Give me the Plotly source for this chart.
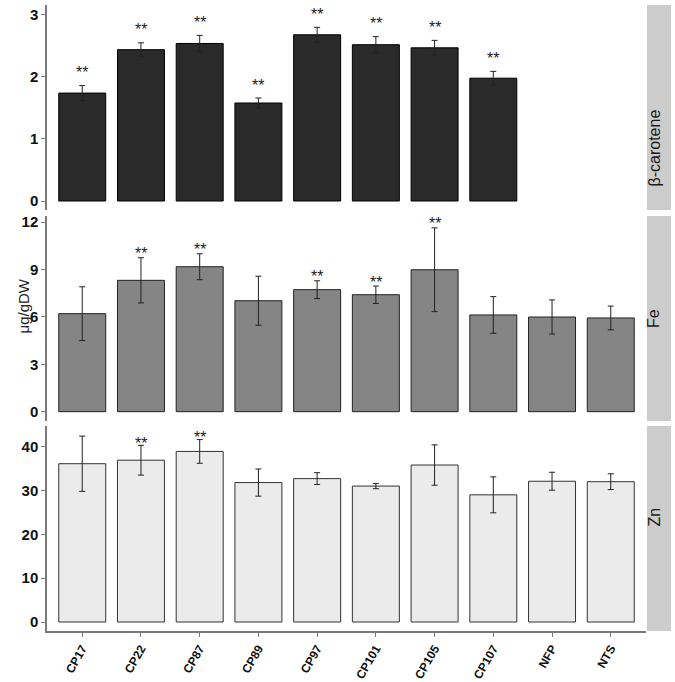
import plotly.graph_objects as go

categories = ["CP17", "CP22", "CP87", "CP89", "CP97", "CP101", "CP105", "CP107", "NFP", "NTS"]

bc_cats = categories[:8]
bc_mean = [1.74, 2.44, 2.54, 1.58, 2.68, 2.52, 2.47, 1.98]
bc_err = [0.12, 0.11, 0.13, 0.08, 0.12, 0.13, 0.12, 0.11]
bc_sig = ["CP17", "CP22", "CP87", "CP89", "CP97", "CP101", "CP105", "CP107"]

fe_mean = [6.20, 8.31, 9.17, 7.02, 7.72, 7.40, 8.98, 6.12, 5.99, 5.93]
fe_err = [1.70, 1.43, 0.82, 1.55, 0.56, 0.55, 2.65, 1.16, 1.08, 0.75]
fe_sig = ["CP22", "CP87", "CP97", "CP101", "CP105"]

zn_mean = [36.1, 36.9, 38.9, 31.8, 32.7, 31.0, 35.8, 29.0, 32.1, 32.0]
zn_err = [6.3, 3.4, 2.7, 3.1, 1.35, 0.6, 4.6, 4.1, 2.05, 1.8]
zn_sig = ["CP22", "CP87"]

panel_labels = ["β-carotene", "Fe", "Zn"]
bc_ticks = [0, 1, 2, 3]
fe_ticks = [0, 3, 6, 9, 12]
zn_ticks = [0, 10, 20, 30, 40]

W, H = 675, 682
def py(p):
    return 1 - p / H

fig = go.Figure()

panels = [
    (bc_cats, bc_mean, bc_err, bc_sig, "#2a2a2a", "#000000", "y", [-0.145, 3.16], bc_ticks, (5, 210), 13),
    (categories, fe_mean, fe_err, fe_sig, "#858585", "#222222", "y2", [-0.59, 12.38], fe_ticks, (216, 421), 4),
    (categories, zn_mean, zn_err, zn_sig, "#ebebeb", "#333333", "y3", [-2.05, 44.7], zn_ticks, (426, 631), 2),
]

for i, (cats, mean, err, sig, fill, line, yax, yr, ticks, (top, bot), shift) in enumerate(panels):
    xax = "x" if i == 0 else f"x{i+1}"
    fig.add_trace(go.Bar(
        x=cats, y=mean, width=0.8,
        marker=dict(color=fill, line=dict(color=line, width=1)),
        error_y=dict(type="data", array=err, visible=True, color="#222222", thickness=1, width=3),
        xaxis=xax, yaxis=yax, showlegend=False, hoverinfo="skip",
    ))
    for c in sig:
        k = cats.index(c)
        fig.add_annotation(
            x=c, y=mean[k] + err[k], xref=xax, yref=yax,
            text="**", showarrow=False, yanchor="middle", yshift=shift,
            font=dict(family="Liberation Sans, Arial", size=16, color="#222222"),
        )
    suffix = "" if i == 0 else str(i + 1)
    ydom = [py(bot), py(top)]
    fig.layout["yaxis" + suffix] = dict(
        domain=ydom, range=yr, tickvals=ticks, ticktext=[str(t) for t in ticks],
        showgrid=False, zeroline=False, showline=True, linecolor="#7a7a7a", linewidth=1.5,
        ticks="outside", ticklen=4, tickcolor="#7a7a7a", tickwidth=1,
        tickfont=dict(family="Liberation Sans, Arial", size=15, color="#111111", weight="bold"),
        anchor=xax, automargin=False,
    )
    is_bottom = i == 2
    fig.layout["xaxis" + suffix] = dict(
        domain=[47 / W, 646 / W], type="category",
        categoryorder="array", categoryarray=categories, range=[-0.6, 9.6],
        showgrid=False, zeroline=False,
        showline=is_bottom, linecolor="#7a7a7a", linewidth=1.5,
        ticks="outside" if is_bottom else "", ticklen=4, tickcolor="#7a7a7a",
        showticklabels=is_bottom, tickangle=-60,
        tickfont=dict(family="Liberation Sans, Arial", size=12, color="#111111", weight="bold"),
        anchor=yax, automargin=False,
        matches=None if i == 0 else "x",
    )
    # strip
    fig.add_shape(type="rect", xref="paper", yref="paper",
                  x0=647 / W, x1=671 / W, y0=ydom[0], y1=ydom[1],
                  fillcolor="#cccccc", line=dict(width=0), layer="below")
    fig.add_annotation(
        x=664 / W, y=(ydom[0] + ydom[1]) / 2, xref="paper", yref="paper",
        text=panel_labels[i], textangle=-90, showarrow=False,
        font=dict(family="Liberation Sans, Arial", size=16, color="#1a1a1a"),
    )

fig.add_annotation(
    x=12 / W, y=py(306), xref="paper", yref="paper",
    text="μg/gDW", textangle=-90, showarrow=False,
    font=dict(family="Liberation Sans, Arial", size=15, color="#222222"),
)

fig.update_layout(
    width=W, height=H, margin=dict(l=0, r=0, t=0, b=0, autoexpand=False),
    paper_bgcolor="white", plot_bgcolor="white", bargap=0.2,
)

fig.write_html(
    "out.html",
    config={"displayModeBar": False},
    post_script="document.body.style.margin='0';document.body.style.overflow='hidden';",
)
